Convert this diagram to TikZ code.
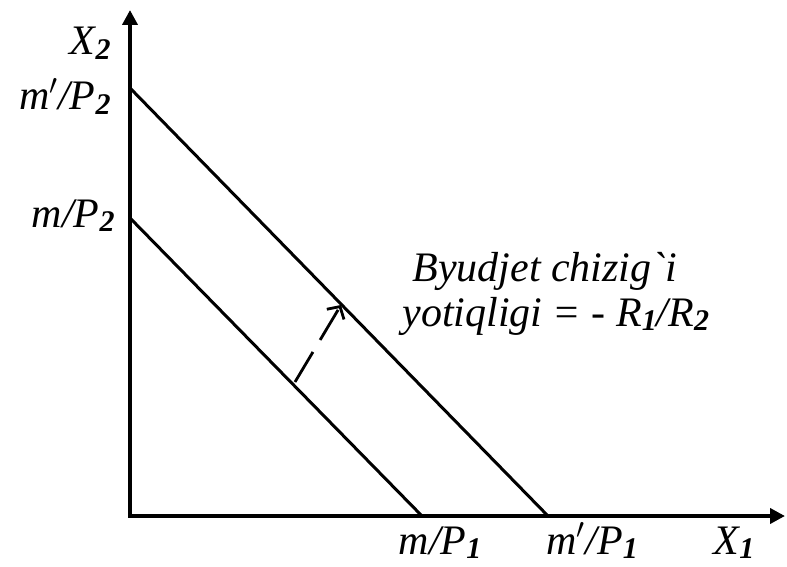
\documentclass[tikz,border=0pt]{standalone}
\usepackage{fontspec}
\setmainfont{Liberation Serif}[Ligatures=TeXOff]
\usetikzlibrary{arrows.meta}
\definecolor{ink}{HTML}{000000}
\newcommand{\idx}[1]{\raisebox{-0.1em}{\fontsize{15}{15}\selectfont\bfseries #1}}

\begin{document}
\begin{tikzpicture}[
  x=0.5pt, y=-0.5pt,
  lbl/.style={font=\itshape\fontsize{21}{24}\selectfont, text=ink, inner sep=0pt},
  axis/.style={draw=ink, line width=2pt, line join=miter,
               {Triangle[length=7.5pt,width=7.5pt]}-{Triangle[length=7.5pt,width=7.5pt]}},
  budget/.style={draw=ink, line width=1.5pt},
  moveline/.style={draw=ink, line width=1.4pt, dash pattern=on 17.5pt off 7pt,
                -{Straight Barb[length=4.5pt,width=10pt,line width=1.4pt]}},
]
\useasboundingbox (0,0) rectangle (787,567);

%% axes
\coordinate (O) at (130,516);
\coordinate (ytop) at (130,10);
\coordinate (xend) at (785,516);
\draw[axis] (ytop) -- (O) -- (xend);

%% budget lines
\coordinate (A2) at (130,88);
\coordinate (A1) at (548,516);
\coordinate (B2) at (130,218);
\coordinate (B1) at (422,516);
\draw[budget] (A2) -- (A1);
\draw[budget] (B2) -- (B1);

%% shift of the line
\coordinate (s) at (295,382);
\coordinate (t) at (341,305);
\draw[moveline] (s) -- (t);

%% labels
\node[lbl, anchor=base east] (lx2) at (111,55) {X\idx{2}};
\node[lbl, anchor=base east] (lmp2) at (111,110) {m$'$/P\idx{2}};
\node[lbl, anchor=base east] (lm2) at (115,227) {m/P\idx{2}};
\node[lbl, anchor=base] (lm1) at (440,554) {m/P\idx{1}};
\node[lbl, anchor=base] (lmp1) at (592,554) {m$'$/P\idx{1}};
\node[lbl, anchor=base] (lx1) at (734,554) {X\idx{1}};
\node[lbl, anchor=base west] (slope1) at (412,281) {Byudjet chizig`i};
\node[lbl, anchor=base west] (slope2) at (402,326) {yotiqligi = - R\idx{1}/R\idx{2}};

\end{tikzpicture}
\end{document}
